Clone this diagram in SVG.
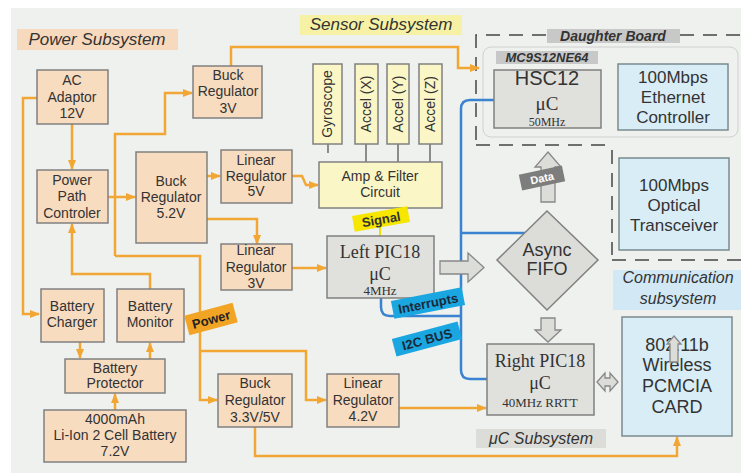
<svg xmlns="http://www.w3.org/2000/svg" width="741" height="475" viewBox="0 0 741 475">
<defs>
<marker id="oa" markerWidth="10" markerHeight="8" refX="9" refY="4" orient="auto" markerUnits="userSpaceOnUse"><path d="M0,0 L10,4 L0,8 Z" fill="#f2a735"/></marker>
<style>
text{font-family:"Liberation Sans",Arial,sans-serif;fill:#333;text-anchor:middle}
.pw rect{fill:#f8dcc0;stroke:#808080;stroke-width:1.5}
.sn rect{fill:#fbf6c6;stroke:#808080;stroke-width:1.5}
.gy rect{fill:#e0e0dc;stroke:#808080;stroke-width:1.5}
.bl rect{fill:#d9edf7;stroke:#7a8a90;stroke-width:1.5}
.t14{font-size:14px}
.t17{font-size:17px}
.sf{font-family:"Liberation Serif","Times New Roman",serif}
.lbl{font-style:italic;font-size:17px}
.or{fill:none;stroke:#f2a735;stroke-width:2.5}
.bu{fill:none;stroke:#3b82d0;stroke-width:2.5}
.dash{fill:none;stroke:#444;stroke-width:1.5;stroke-dasharray:14,9}
.blk{fill:#dcdcd8;stroke:#888;stroke-width:1.3}
.stub{stroke:#555;stroke-width:1.3}
</style>
</defs>
<rect x="0" y="0" width="741" height="475" fill="#ffffff"/>
<rect x="11" y="8" width="730" height="465" fill="#eef1ee"/>

<!-- section labels -->
<g id="lbl-power"><rect x="17" y="29" width="161" height="21" fill="#f7d9bd"/><text x="97" y="45" class="lbl">Power Subsystem</text></g>
<g id="lbl-sensor"><rect x="300" y="15" width="162" height="20" fill="#f6f1a4"/><text x="381" y="30" class="lbl">Sensor Subsystem</text></g>
<g id="lbl-comm"><rect x="613" y="270" width="128" height="40" fill="#d2e8f5"/><text x="678" y="283" class="lbl" style="font-size:16px">Communication</text><text x="678" y="304" class="lbl" style="font-size:16px">subsystem</text></g>
<g id="lbl-uc"><rect x="476" y="429" width="130" height="19" fill="#dcdcd8"/><text x="541" y="444" class="lbl" style="font-size:16px">μC Subsystem</text></g>

<!-- daughter board -->
<g id="daughter">
<path class="dash" d="M476,140 V35 H547 M680,35 H741 M476,145 H610 M612,150 V255 M612,260 H741"/>
<rect x="547" y="29" width="133" height="14" fill="#c8c8c8"/>
<text x="613" y="41" style="font-size:14px;font-weight:bold;font-style:italic">Daughter Board</text>
<rect x="483" y="47" width="255" height="90" rx="8" fill="#eef1ee" stroke="#d0d0d0" stroke-width="1"/>
<rect x="496" y="51" width="102" height="13" fill="#c8c8c8"/>
<text x="547" y="62" style="font-size:13px;font-weight:bold;font-style:italic">MC9S12NE64</text>
</g>

<!-- connectors -->
<g id="connectors">
<path class="or" d="M72,124 V169" marker-end="url(#oa)"/>
<path class="or" d="M37,98 H23 V314 H39" marker-end="url(#oa)"/>
<path class="or" d="M108,197 H135" marker-end="url(#oa)"/>
<path class="or" d="M115,256 V134 H165 V93 H192" marker-end="url(#oa)"/>
<path class="or" d="M115,256 H200 V400 H217" marker-end="url(#oa)"/>
<path class="or" d="M200,351 H306 V400 H326" marker-end="url(#oa)"/>
<path class="or" d="M231,66 V47 H458 V68 H479" marker-end="url(#oa)"/>
<path class="or" d="M207,176 H220" marker-end="url(#oa)"/>
<path class="or" d="M207,219 H257 V244" marker-end="url(#oa)"/>
<path class="or" d="M292,176 H302 L306,185 H318" marker-end="url(#oa)"/>
<path class="or" d="M292,268 H326" marker-end="url(#oa)"/>
<path class="or" d="M399,408 H486" marker-end="url(#oa)"/>
<path class="or" d="M255,427 V456 H677 V437" marker-end="url(#oa)"/>
<path class="or" d="M150,289 V274 H72 V224" marker-end="url(#oa)"/>
<path class="or" d="M80,342 V358" marker-end="url(#oa)"/>
<path class="or" d="M150,359 V343" marker-end="url(#oa)"/>
<path class="or" d="M115,410 V394" marker-end="url(#oa)"/>
<path class="bu" d="M494,100 H470 Q461,100 461,109 V370 Q461,379 470,379 H487 M461,233 H525 M381,298 V307 Q381,316 390,316 H461"/>
<line class="stub" x1="328" y1="144" x2="328" y2="153"/>
<line class="stub" x1="366" y1="144" x2="366" y2="162"/>
<line class="stub" x1="398" y1="144" x2="398" y2="162"/>
<line class="stub" x1="430" y1="144" x2="430" y2="162"/>
<line x1="380" y1="224" x2="380" y2="236" stroke="#f0e000" stroke-width="2"/>
<polygon class="blk" points="440,261 468,261 468,253 484,267.5 468,282 468,274 440,274"/>
<polygon class="blk" points="541,318 555,318 555,330 561,330 548,342 535,330 541,330"/>
<polygon class="blk" points="548,152 561,167 555,167 555,202 541,202 541,167 535,167"/>
<polygon class="blk" points="597,382 605,373 605,378 610,378 610,373 618,382 610,391 610,386 605,386 605,391"/>
</g>

<!-- power nodes -->
<g id="ac" class="pw"><rect x="37" y="70" width="71" height="54"/><text class="t14" x="72" y="85">AC</text><text class="t14" x="72" y="102">Adaptor</text><text class="t14" x="72" y="118">12V</text></g>
<g id="ppc" class="pw"><rect x="37" y="170" width="71" height="53"/><text class="t14" x="72" y="185">Power</text><text class="t14" x="72" y="201">Path</text><text class="t14" x="72" y="218">Controler</text></g>
<g id="buck3" class="pw"><rect x="193" y="66" width="69" height="52"/><text class="t14" x="228" y="80">Buck</text><text class="t14" x="228" y="96">Regulator</text><text class="t14" x="228" y="113">3V</text></g>
<g id="buck52" class="pw"><rect x="136" y="152" width="71" height="91"/><text class="t14" x="171" y="186">Buck</text><text class="t14" x="171" y="202">Regulator</text><text class="t14" x="171" y="218">5.2V</text></g>
<g id="lin5" class="pw"><rect x="221" y="150" width="71" height="53"/><text class="t14" x="256" y="165">Linear</text><text class="t14" x="256" y="181">Regulator</text><text class="t14" x="256" y="196">5V</text></g>
<g id="lin3" class="pw"><rect x="221" y="244" width="71" height="46"/><text class="t14" x="256" y="255">Linear</text><text class="t14" x="256" y="272">Regulator</text><text class="t14" x="256" y="288">3V</text></g>
<g id="charger" class="pw"><rect x="41" y="289" width="63" height="53"/><text class="t14" x="72" y="311">Battery</text><text class="t14" x="72" y="327">Charger</text></g>
<g id="monitor" class="pw"><rect x="117" y="289" width="67" height="53"/><text class="t14" x="150" y="311">Battery</text><text class="t14" x="150" y="327">Monitor</text></g>
<g id="protector" class="pw"><rect x="65" y="359" width="100" height="34"/><text class="t14" x="115" y="373">Battery</text><text class="t14" x="115" y="388">Protector</text></g>
<g id="battery" class="pw"><rect x="44" y="410" width="142" height="52"/><text class="t14" x="115" y="424">4000mAh</text><text class="t14" x="115" y="440">Li-Ion 2 Cell Battery</text><text class="t14" x="115" y="456">7.2V</text></g>
<g id="buck335" class="pw"><rect x="218" y="374" width="74" height="53"/><text class="t14" x="255" y="388">Buck</text><text class="t14" x="255" y="405">Regulator</text><text class="t14" x="255" y="422">3.3V/5V</text></g>
<g id="lin42" class="pw"><rect x="327" y="374" width="72" height="53"/><text class="t14" x="363" y="388">Linear</text><text class="t14" x="363" y="405">Regulator</text><text class="t14" x="363" y="421">4.2V</text></g>

<!-- sensor nodes -->
<g id="gyro" class="sn"><rect x="313" y="64" width="29" height="80"/><text class="t14" transform="translate(332,104) rotate(-90)">Gyroscope</text></g>
<g id="accx" class="sn"><rect x="355" y="64" width="23" height="80"/><text class="t14" transform="translate(371,104) rotate(-90)">Accel (X)</text></g>
<g id="accy" class="sn"><rect x="387" y="64" width="22" height="80"/><text class="t14" transform="translate(403,104) rotate(-90)">Accel (Y)</text></g>
<g id="accz" class="sn"><rect x="419" y="64" width="23" height="80"/><text class="t14" transform="translate(435,104) rotate(-90)">Accel (Z)</text></g>
<g id="amp" class="sn"><rect x="319" y="162" width="123" height="46"/><text class="t14" x="380" y="181">Amp &amp; Filter</text><text class="t14" x="380" y="197">Circuit</text></g>

<!-- uC nodes -->
<g id="leftpic" class="gy"><rect x="327" y="236" width="107" height="62"/><text class="sf" x="380" y="258" style="font-size:18px">Left PIC18</text><text class="sf" x="380" y="280" style="font-size:18px">μC</text><text class="sf" x="380" y="295" style="font-size:13px">4MHz</text></g>
<g id="rightpic" class="gy"><rect x="487" y="344" width="107" height="71"/><text class="sf" x="540" y="367" style="font-size:18px">Right PIC18</text><text class="sf" x="540" y="389" style="font-size:18px">μC</text><text class="sf" x="540" y="407" style="font-size:13px">40MHz RRTT</text></g>
<g id="hsc12" class="gy"><rect x="494" y="70" width="107" height="58"/><text x="547" y="85" style="font-size:20px">HSC12</text><text class="sf" x="547" y="110" style="font-size:19px">μC</text><text class="sf" x="547" y="126" style="font-size:12px">50MHz</text></g>
<g id="fifo"><polygon points="547,211 598,260 547,310 497,260" fill="#dcdcd8" stroke="#808080" stroke-width="1.5"/><text x="547" y="256" class="t17" style="font-size:18px">Async</text><text x="547" y="275" class="t17" style="font-size:18px">FIFO</text></g>

<!-- comm nodes -->
<g id="ethernet" class="bl"><rect x="618" y="64" width="110" height="66"/><text class="t17" x="673" y="83">100Mbps</text><text class="t17" x="673" y="103">Ethernet</text><text class="t17" x="673" y="123">Controller</text></g>
<g id="optical" class="bl"><rect x="619" y="158" width="110" height="92"/><text class="t17" x="674" y="191">100Mbps</text><text class="t17" x="674" y="211">Optical</text><text class="t17" x="674" y="231">Transceiver</text></g>
<g id="pcmcia" class="bl"><rect x="622" y="317" width="110" height="119"/><text class="t17" x="677" y="351" style="font-size:18px">802.11b</text><text class="t17" x="677" y="371" style="font-size:18px">Wireless</text><text class="t17" x="677" y="392" style="font-size:18px">PCMCIA</text><text class="t17" x="677" y="413" style="font-size:18px">CARD</text><polygon class="blk" points="674,336 681,344 678,344 678,362 670,362 670,344 667,344"/></g>

<!-- tag labels -->
<g id="tag-signal" transform="translate(381,219) rotate(-10)"><rect x="-28" y="-8" width="56" height="16" fill="#f6e600"/><text x="0" y="5" style="font-size:13px;font-weight:bold">Signal</text></g>
<g id="tag-interrupts" transform="translate(428,303) rotate(-11)"><rect x="-36" y="-9" width="72" height="18" fill="#1aa6e0"/><text x="0" y="5" style="font-size:13px;font-weight:bold;fill:#1a2a3a">Interrupts</text></g>
<g id="tag-i2c" transform="translate(427,339) rotate(-15)"><rect x="-34" y="-9" width="68" height="18" fill="#1aa6e0"/><text x="0" y="5" style="font-size:13px;font-weight:bold;fill:#1a2a3a">I2C BUS</text></g>
<g id="tag-power" transform="translate(211,319) rotate(-15)"><rect x="-25" y="-10" width="50" height="20" fill="#f2a525"/><text x="0" y="5" style="font-size:13px;font-weight:bold;fill:#222">Power</text></g>
<g id="tag-data" transform="translate(542,178) rotate(-12)"><rect x="-22" y="-8" width="44" height="16" fill="#7d7d7d"/><text x="0" y="4" style="font-size:11px;font-weight:bold;fill:#fff">Data</text></g>
</svg>
